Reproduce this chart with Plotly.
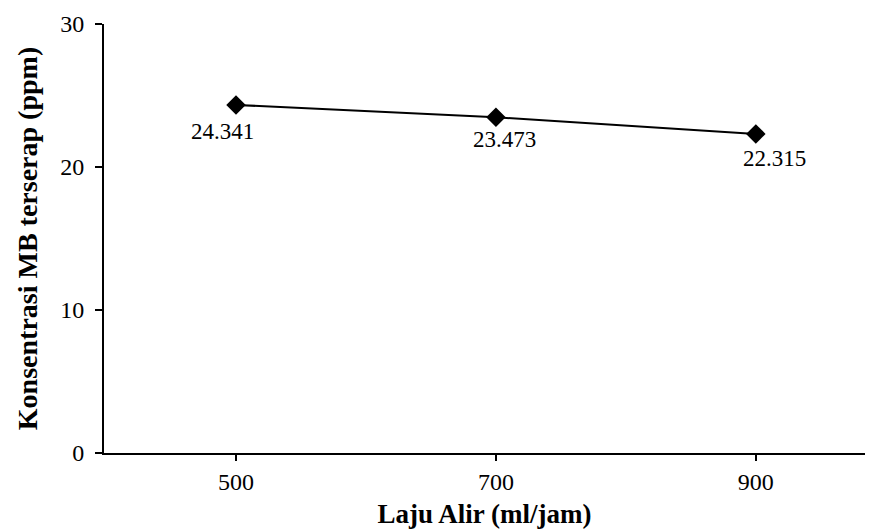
import plotly.graph_objects as go

categories = ["500", "700", "900"]
values = [24.341, 23.473, 22.315]
labels = ["24.341", "23.473", "22.315"]
y_ticks = [0, 10, 20, 30]

FONT = "Liberation Serif"

fig = go.Figure()
fig.add_trace(go.Scatter(
    x=categories, y=values, mode="lines+markers",
    line=dict(color="black", width=2),
    marker=dict(symbol="diamond", size=15, color="black"),
    showlegend=False, hoverinfo="skip",
))

shifts = [(-14, -27), (9, -22), (19, -25)]
for i, (v, t, (dx, dy)) in enumerate(zip(values, labels, shifts)):
    fig.add_annotation(x=i, y=v, text=t, showarrow=False,
                       xref="x", yref="y",
                       xshift=dx, yshift=dy,
                       font=dict(family=FONT, size=23, color="black"))

fig.update_layout(
    width=869, height=523,
    margin=dict(l=96, r=12, t=16, b=78),
    plot_bgcolor="white", paper_bgcolor="white",
    font=dict(family=FONT, size=24, color="black"),
)
fig.update_xaxes(
    type="category", range=[-0.508, 2.42], automargin=False,
    showline=True, linecolor="black", linewidth=2,
    ticks="outside", ticklen=6, tickwidth=2, tickcolor="black",
    tickfont=dict(family=FONT, size=24),
    showgrid=False, zeroline=False,
    title=dict(text="<b>Laju Alir (ml/jam)</b>", font=dict(family=FONT, size=27), standoff=10),
)
fig.update_yaxes(
    range=[0, 30], tickvals=y_ticks, automargin=False,
    showline=True, linecolor="black", linewidth=2,
    ticks="outside", ticklen=7, tickwidth=2, tickcolor="black",
    tickfont=dict(family=FONT, size=24), ticklabelstandoff=6,
    showgrid=False, zeroline=False,
    title=dict(text="<b>Konsentrasi MB terserap (ppm)</b>", font=dict(family=FONT, size=28), standoff=14),
)

fig.write_html("out.html")
